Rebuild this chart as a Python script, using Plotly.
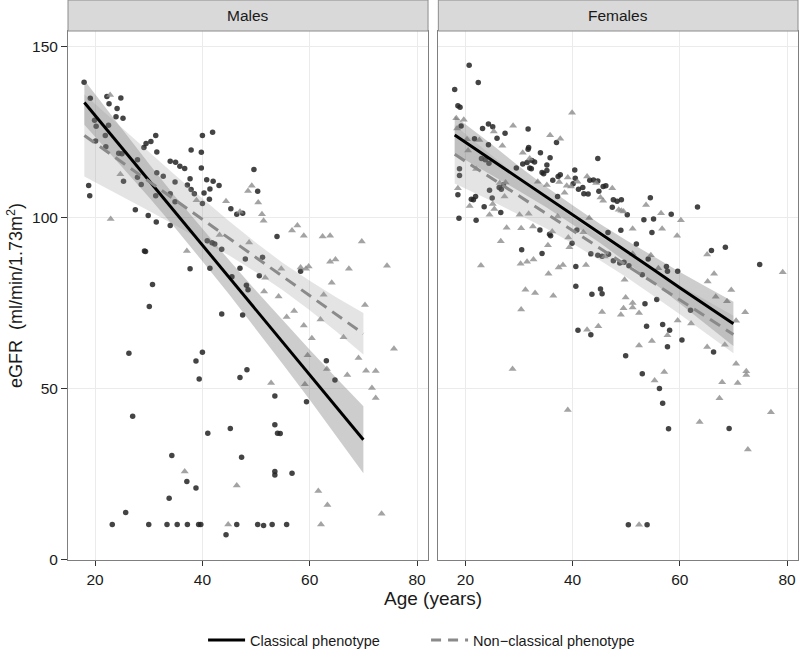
import plotly.graph_objects as go

# ---------------- data ----------------
male_cls_age = [17.95,19.1,22.2,24.8,22.6,24.1,23.9,25.2,19.9,20.2,22.5,20.1,21.9,22,24.4,25,27.9,25.3,27.9,28.6,
                29.1,29.5,30.4,31.3,31.5,31.5,32.7,34,35,35.8,36.7,34.9,37.2,37.7,37.9,39.8,39.8,40,41.9,40.8,
                42,43.1,41.4,40.3,37.9,38.5,49.6,50.3,18.8,19,34,31.3,
                27.5,29.9,31.4,34,34.9,40,41.3,45.3,46.4,47.5,53.9,40.9,41.8,42.3,43.6,29.2,29.4,48,51.2,37.7,
                41.4,47,45.5,58.3,50.6,30.7,30.1,48.2,48.5,43.6,47.5,26.3,40,38.8,39.4,47,48.3,63.1,64.7,53.5,
                59.4,27,41,45.2,53.5,54,54.5,34.3,47.3,53.5,53.5,56.7,37.1,38.8,33.8,25.7,23.2,30,33.4,35.3,
                37.2,39.3,39.7,46.4,50.3,51.4,53,55.7,44.4]
male_cls_egfr = [139.6,134.9,135.4,135,133.3,131.9,129.5,129.1,128.5,126.7,127,122.4,124,120.7,118.8,118.7,116.9,110.6,111.8,109.7,
                 120.5,121.7,122.3,124,119.2,113.1,112.1,116.5,116.2,115,114.4,110.4,109.5,111.4,119.8,119.1,114.5,124,125,111.1,
                 110.6,109.4,108.4,107.2,108.2,107,114.1,107.7,109.4,106.4,107,106.4,
                 102.3,100.6,98.7,97.7,104.6,104.1,105.4,102.6,101,101.3,94.5,93.2,92.6,92.3,90.7,90.2,90.1,87.9,88.4,85,
                 85.2,85.2,82.7,84.3,83,80.4,74,80.2,78.9,71.8,71.5,60.3,60.6,58,52.8,53.2,55.5,58.1,52.5,47.8,
                 46.1,41.9,36.9,38.3,39.4,36.9,36.8,30.4,29.9,25.7,24.7,25.2,22.8,20.9,17.9,13.7,10.2,10.2,10.2,10.2,
                 10.2,10.2,10.2,10.2,10.2,9.9,10.2,10.2,7.2]

male_ncl_age = [22.8,24.7,49.2,48.5,
                22.9,38.9,44.4,47,50.4,51.1,51.4,56.7,57.7,58.9,62.4,63.8,69.7,43.2,37.1,48.7,54.7,58.3,59.3,59.8,
                63.8,64.8,67.3,74.4,51.7,51.5,54.2,64.1,62.6,70.3,57.1,55.7,58.9,62,66.3,60.4,75.7,59.6,63.2,69.1,
                67,70.5,72.3,52.8,59.1,71.6,72.3,
                36.7,46.4,44.8,61.6,63.3,62.1,73.4]
male_ncl_egfr = [135.9,112.7,109.3,107.8,
                 99.6,105.1,104.8,101.7,104.4,101,99.1,96.2,97.7,94.7,94.5,94.7,93,94.9,90.2,92.7,85,85.4,85,85.7,
                 87.1,87.7,85,85.9,82.4,78.4,76.9,80.9,77.4,74.4,72.7,70.9,68.4,70.2,65,64.7,61.6,59.7,55.7,58.9,
                 53.9,55.2,55.1,51.6,51.2,50.1,47.2,
                 25.7,21.6,10.2,20,15.9,10.2,13.3]

female_cls_age = [20.7,22.4,18,18.6,19,19.2,23.2,24.3,25.1,27.4,31.7,25.9,24.3,21.7,23,23.7,24.4,18.9,18.9,18.6,
                  21.1,21.5,21.9,23.5,25,24.5,26.6,18.8,22,26.3,26.7,27.1,29.5,31.8,31.7,31.5,32.4,30.7,32,32.3,
                  34,32.9,34.3,34.6,35.8,35.2,37,35.2,36.3,37.3,37.7,40.4,40.5,40.1,41.1,41.9,43.2,43.9,44.7,42.1,
                  42.9,44.7,37.2,45.7,46.2,44.9,47.6,48.3,49.1,47.4,50.2,54.5,55.1,53.3,58.4,63.3,54.8,49,40.8,39.9,
                  46.6,33.9,35.7,35.9,30.5,34.3,40.6,43.4,44.7,45.5,46.7,47.6,48.8,49.6,50.5,51.9,54.1,53,57.5,57.7,
                  59.6,65.9,68.5,40.6,43.6,45.2,45.5,53.5,55.7,41,43.4,53.8,56.8,58.1,60.4,62,57.7,66.3,49.9,53,
                  56.2,74.9,56.8,57.9,69.2,50.4,53.9]
female_cls_egfr = [144.6,139.5,137.5,132.7,132.3,126.8,126.1,127.4,126.6,124.7,125.9,123.2,121.3,123.1,117.3,116.9,115.9,114.3,112.3,106.7,
                   105.4,105.2,106.2,103.2,105.7,108,101.5,99.8,99.2,108.8,108.3,109.6,114.5,120.5,120,116.1,116.7,115.7,114.5,114.3,
                   119,116.3,113.2,112.8,117.5,115.4,122,113.8,110.9,112,112.5,113.9,111.5,109.9,108.3,108.8,110.9,111,110.7,107,
                   106.9,117.3,106.2,109.1,109.3,107.7,105.2,104.8,105.2,103,100.8,105.8,99.6,99.4,101,103.1,95.6,96.3,96.4,92.5,
                   95.6,96.4,95.1,94.7,90.6,89.5,85.7,89.4,89,88.7,89.3,87.4,86.7,86.9,85.9,92.3,87.9,83.3,85.7,84.3,
                   84.3,90.4,91.3,79.9,77.6,79.1,77.7,74.8,76,67,65.7,68.2,68.7,67,64.2,72.9,62.2,60.7,59.6,54.3,
                   50,86.3,45.7,38.2,38.3,10.1,10.1]

female_ncl_age = [39.9,18.3,19.7,18.45,25.3,28.9,26.9,20.3,22.6,20.5,22,18.6,20.8,25.1,25.4,24.5,26.6,27.7,22.9,27.3,
                  26.4,27.5,30.7,32,35.8,37.7,33.5,35.2,39.1,37.5,40.9,42.7,44.4,38.9,39.7,38.5,47.4,45.2,45.7,48.6,
                  49.1,49.5,53.7,56.5,60.2,56.7,59.5,51.2,39.2,43.1,42,32.6,30.4,31.8,30.1,37.2,36.2,35.4,39.4,30.3,
                  31.5,32.7,35.5,37.4,38.2,42.5,46,49.7,51.2,54.6,56,65.1,66.4,65.2,66.7,68.8,69.6,70.5,36.4,31.2,
                  33,30.4,49.9,49.5,51.2,51.2,49,45.5,52.4,44.8,42.7,59.6,62.1,52.4,54.8,57.7,65.1,68.4,28.8,55.3,
                  57.1,67.4,67.9,70.8,72.4,72.4,70.5,72.2,79.2,39.1,63.7,77,72.7,52.4]
female_ncl_egfr = [130.7,129.1,128.6,126.1,125.2,126.9,121,122.9,122.7,119.6,114.2,108.6,103.4,104,102.5,100.8,93.1,97,86,106.2,
                   110.1,110.3,119,117.3,124.1,123.1,110.5,109.5,111.7,110.4,110.5,112,110.1,109.3,109.1,107.3,108.6,105.9,104.9,102.3,
                   102,101.8,103.7,101.3,99.2,96.7,94.7,96.7,94.2,99.9,95.7,97.4,96.9,101.1,100.8,100.3,95.9,91.9,91.3,86.5,
                   87.1,87.7,83.6,85.4,86.1,86.1,88.6,81.8,89.4,89,85.2,89.2,83.6,81.3,76.8,75.5,78.8,69.8,77.1,78.9,
                   77.9,73.1,76.6,73.5,75,73.7,71.6,72.4,72.1,68.2,67.2,69.9,69,62.6,63.9,65.6,62.1,62.8,55.7,52.3,
                   54.8,47.1,51.8,51.6,55,53.9,57.2,72.3,84,43.7,40.2,43,32.1,10.1]

# fitted regression lines with 95% bands (read at these ages)
band_age = [18, 25, 30, 35, 40, 45, 50, 55, 60, 65, 70]
male_cls_fit = [133.7,120.4,110.9,101.4,91.9,82.5,73.0,63.5,54.0,44.5,35.0]
male_cls_lo  = [127.2,114.9,106.0,96.8,87.2,77.5,67.4,57.1,46.7,36.0,25.2]
male_cls_hi  = [140.2,125.9,115.8,106.0,96.6,87.5,78.6,69.9,61.3,53.0,44.8]
male_ncl_fit = [124.0,116.2,110.6,105.0,99.5,93.9,88.3,82.7,77.2,71.6,66.0]
male_ncl_lo  = [112.0,106.2,102.0,97.7,93.4,88.9,84.0,78.7,72.9,66.6,59.9]
male_ncl_hi  = [136.0,126.2,119.2,112.3,105.6,98.9,92.6,86.7,81.5,76.6,72.1]
female_cls_fit = [124.2,116.8,111.4,106.1,100.8,95.5,90.2,84.9,79.5,74.2,68.9]
female_cls_lo  = [118.7,112.3,107.8,103.1,98.0,92.7,87.0,81.1,74.9,68.7,62.4]
female_cls_hi  = [129.7,121.3,115.0,109.1,103.6,98.3,93.4,88.7,84.1,79.7,75.4]
female_ncl_fit = [118.5,111.4,106.3,101.3,96.2,91.1,86.1,81.0,75.9,70.9,65.8]
female_ncl_lo  = [110.0,104.8,100.9,96.9,92.4,87.6,82.6,77.2,71.7,66.1,60.3]
female_ncl_hi  = [127.0,118.0,111.7,105.7,100.0,94.6,89.6,84.8,80.1,75.7,71.3]

panels = ["Males", "Females"]
x_ticks = [20, 40, 60, 80]
y_ticks = [0, 50, 100, 150]

# ---------------- styles ----------------
FONT = "Liberation Sans, Arial, Helvetica, sans-serif"
DOT_COL = "rgba(35,35,35,0.85)"
TRI_COL = "rgba(140,140,140,0.8)"
CLS_BAND = "rgba(90,90,90,0.30)"
NCL_BAND = "rgba(150,150,150,0.26)"
NCL_LINE = "#8a8a8a"

fig = go.Figure()

panel_data = [
    ("x", "y", male_cls_age, male_cls_egfr, male_ncl_age, male_ncl_egfr,
     male_cls_fit, male_cls_lo, male_cls_hi, male_ncl_fit, male_ncl_lo, male_ncl_hi),
    ("x2", "y2", female_cls_age, female_cls_egfr, female_ncl_age, female_ncl_egfr,
     female_cls_fit, female_cls_lo, female_cls_hi, female_ncl_fit, female_ncl_lo, female_ncl_hi),
]

for (xa, ya, ca, ce, na, ne, cf, clo, chi, nf, nlo, nhi) in panel_data:
    fig.add_trace(go.Scatter(x=ca, y=ce, mode="markers", xaxis=xa, yaxis=ya, showlegend=False,
                             marker=dict(symbol="circle", size=5.5, color=DOT_COL, line=dict(width=0))))
    fig.add_trace(go.Scatter(x=na, y=ne, mode="markers", xaxis=xa, yaxis=ya, showlegend=False,
                             marker=dict(symbol="triangle-up", size=7, color=TRI_COL, line=dict(width=0))))
    fig.add_trace(go.Scatter(x=band_age + band_age[::-1], y=chi + clo[::-1], mode="lines",
                             fill="toself", fillcolor=CLS_BAND, line=dict(width=0),
                             xaxis=xa, yaxis=ya, showlegend=False, hoverinfo="skip"))
    fig.add_trace(go.Scatter(x=band_age + band_age[::-1], y=nhi + nlo[::-1], mode="lines",
                             fill="toself", fillcolor=NCL_BAND, line=dict(width=0),
                             xaxis=xa, yaxis=ya, showlegend=False, hoverinfo="skip"))
    fig.add_trace(go.Scatter(x=band_age, y=cf, mode="lines", xaxis=xa, yaxis=ya, showlegend=False,
                             line=dict(color="black", width=3)))
    fig.add_trace(go.Scatter(x=band_age, y=nf, mode="lines", xaxis=xa, yaxis=ya, showlegend=False,
                             line=dict(color=NCL_LINE, width=3, dash="12px,7px")))

# legend entries
fig.add_trace(go.Scatter(x=[None], y=[None], mode="lines", name="Classical phenotype",
                         line=dict(color="black", width=3)))
fig.add_trace(go.Scatter(x=[None], y=[None], mode="lines", name="Non\u2212classical phenotype",
                         line=dict(color=NCL_LINE, width=3, dash="10px,7px")))

PLOT_H = 662 - 31 - 102
axis_common = dict(showgrid=True, gridcolor="#ebebeb", gridwidth=1, zeroline=False,
                   showline=True, mirror=True, linecolor="#7f7f7f", linewidth=1,
                   tickcolor="#333333", tickwidth=1, automargin=False,
                   tickfont=dict(family=FONT, size=15.5, color="#1a1a1a"))

fig.update_layout(
    width=802, height=662,
    margin=dict(l=68, r=4, t=31, b=102, autoexpand=False),
    plot_bgcolor="white", paper_bgcolor="white",
    font=dict(family=FONT, color="#1a1a1a"),
    xaxis=dict(domain=[0, 0.4932], range=[14.95, 82.05], tickvals=x_ticks, ticks="outside", ticklen=5,
               **axis_common),
    xaxis2=dict(domain=[0.5073, 1], range=[14.95, 82.05], tickvals=x_ticks, anchor="y2", ticks="outside",
                ticklen=5, **axis_common),
    yaxis=dict(range=[-0.2, 154.6], tickvals=y_ticks, ticks="outside", ticklen=6, **axis_common,
               title=dict(text="eGFR  (ml/min/1.73m<sup>2</sup>)",
                          font=dict(family=FONT, size=18, color="#1a1a1a"), standoff=4)),
    yaxis2=dict(range=[-0.2, 154.6], tickvals=y_ticks, anchor="x2", showticklabels=False, ticks="",
                **axis_common),
    legend=dict(orientation="h", x=0.4905, xanchor="center", y=-80 / PLOT_H, yanchor="middle",
                font=dict(family=FONT, size=14.5, color="#1a1a1a"), entrywidth=171, itemwidth=37,
                bgcolor="rgba(0,0,0,0)"),
    showlegend=True,
)

# x-axis title centred under both panels
fig.add_annotation(text="Age (years)", xref="paper", yref="paper", x=0.5, y=-38 / PLOT_H,
                   xanchor="center", yanchor="middle", showarrow=False,
                   font=dict(family=FONT, size=19, color="#1a1a1a"))

# facet strips
strip_top = 1 + 31 / PLOT_H
for i, name in enumerate(panels):
    xr = "x domain" if i == 0 else "x2 domain"
    fig.add_shape(type="rect", xref=xr, yref="paper", x0=0, x1=1, y0=1, y1=strip_top,
                  fillcolor="#d9d9d9", line=dict(color="#8c8c8c", width=1), layer="above")
    fig.add_annotation(text=name, xref=xr, yref="paper", x=0.5, y=(1 + strip_top) / 2,
                       xanchor="center", yanchor="middle", showarrow=False,
                       font=dict(family=FONT, size=15.5, color="#1a1a1a"))

# remove the browser's default 8px page margin so the figure sits at the window origin
fig.write_html("out.html", config={"displayModeBar": False},
               post_script="document.body.style.margin='0';document.body.style.overflow='hidden';")
